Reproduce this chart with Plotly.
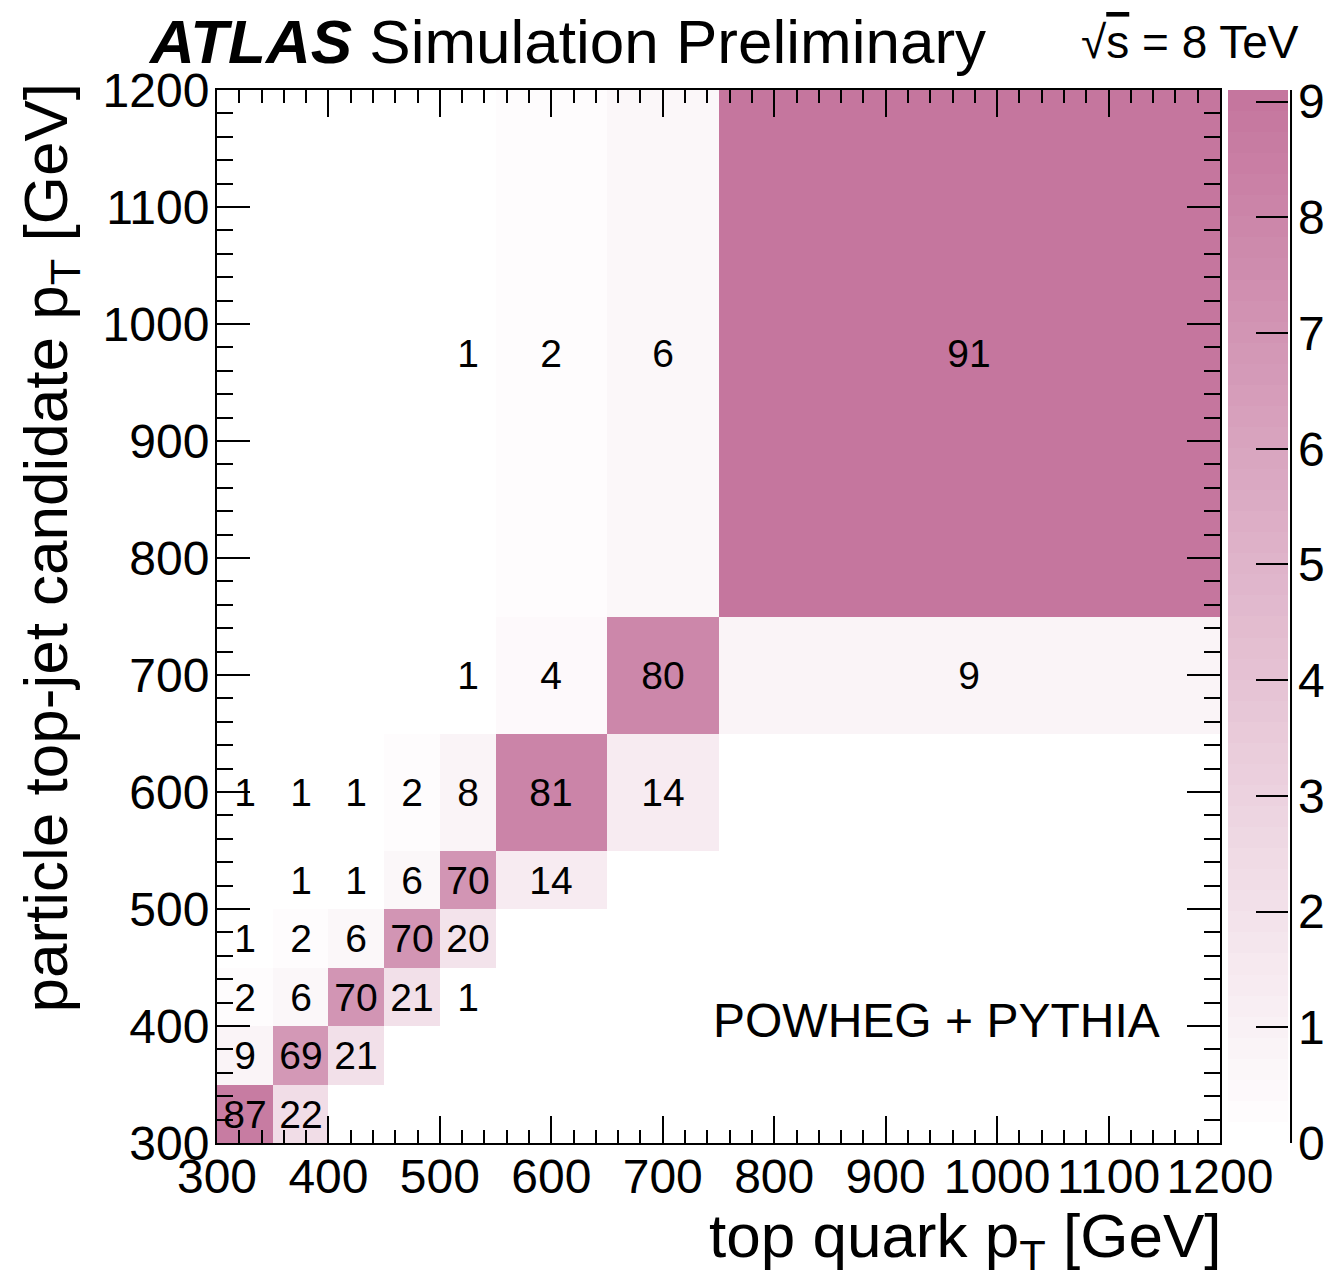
import plotly.graph_objects as go

# Bin edges (GeV) for top quark pT (x) and particle top-jet candidate pT (y)
x_edges = [300, 350, 400, 450, 500, 550, 650, 750, 1200]
y_edges = [300, 350, 400, 450, 500, 550, 650, 750, 1200]

# Migration matrix in percent, one row per y bin (bottom to top), None = empty bin
row_300_350 = [87, 22, None, None, None, None, None, None]
row_350_400 = [9, 69, 21, None, None, None, None, None]
row_400_450 = [2, 6, 70, 21, 1, None, None, None]
row_450_500 = [1, 2, 6, 70, 20, None, None, None]
row_500_550 = [None, 1, 1, 6, 70, 14, None, None]
row_550_650 = [1, 1, 1, 2, 8, 81, 14, None]
row_650_750 = [None, None, None, None, 1, 4, 80, 9]
row_750_1200 = [None, None, None, None, 1, 2, 6, 91]

z = [row_300_350, row_350_400, row_400_450, row_450_500,
     row_500_550, row_550_650, row_650_750, row_750_1200]
labels = [["" if v is None else str(v) for v in row] for row in z]

colorbar_ticks = [0, 10, 20, 30, 40, 50, 60, 70, 80, 90]

# Stepped white -> pink palette
n_steps = 50
c0 = (255, 255, 255)
c1 = (197, 118, 158)
scale = []
for i in range(n_steps):
    f = i / (n_steps - 1)
    col = "rgb(%d,%d,%d)" % tuple(round(a + (b - a) * f) for a, b in zip(c0, c1))
    scale.append([i / n_steps, col])
    scale.append([(i + 1) / n_steps, col])

FONT = "Liberation Sans, Arial, Helvetica, sans-serif"

fig = go.Figure()
fig.add_trace(go.Heatmap(
    x=x_edges, y=y_edges, z=z,
    text=labels, texttemplate="%{text}",
    textfont=dict(family=FONT, size=39, color="black"),
    colorscale=scale, zmin=0, zmax=91,
    hoverongaps=False,
    colorbar=dict(
        x=1.008, xanchor="left", xpad=0, ypad=0,
        y=0, yanchor="bottom",
        lenmode="pixels", len=1053,
        thicknessmode="pixels", thickness=60,
        outlinewidth=0,
        tickvals=colorbar_ticks,
        ticks="inside", ticklen=32, tickwidth=2, tickcolor="black",
        tickfont=dict(family=FONT, size=48, color="black"),
    ),
))

axis_common = dict(
    showgrid=False, zeroline=False,
    showline=True, linecolor="black", linewidth=2, mirror="ticks",
    ticks="inside", tickwidth=2, tickcolor="black",
    tickfont=dict(family=FONT, size=48, color="black"),
    dtick=100, tick0=0,
)

fig.update_xaxes(range=[300, 1200], ticklen=27, ticklabelstandoff=-10,
                 minor=dict(dtick=20, ticks="inside", ticklen=13, tickwidth=2, tickcolor="black"),
                 **axis_common)
fig.update_yaxes(range=[300, 1200], ticklen=33, ticklabelstandoff=-4,
                 minor=dict(dtick=20, ticks="inside", ticklen=16, tickwidth=2, tickcolor="black"),
                 **axis_common)

annotations = [
    dict(text="<b><i>ATLAS</i></b> Simulation Preliminary",
         x=-0.0708, y=1.0456, xanchor="left", yanchor="middle",
         font=dict(family=FONT, size=62, color="black")),
    dict(text="√<span style='text-decoration:overline'>s</span> = 8 TeV",
         x=1.0808, y=1.0456, xanchor="right", yanchor="middle",
         font=dict(family=FONT, size=46, color="black")),
    dict(text="POWHEG + PYTHIA",
         xref="x", yref="y", x=1148, y=405, xanchor="right", yanchor="middle",
         font=dict(family=FONT, size=48, color="black")),
    dict(text="top quark p<sub>T</sub> [GeV]",
         x=1.003, y=-0.092, xanchor="right", yanchor="middle",
         font=dict(family=FONT, size=62, color="black")),
    dict(text="particle top-jet candidate p<sub>T</sub> [GeV]",
         x=-0.1665, y=1.009, xanchor="center", yanchor="top", textangle=-90,
         font=dict(family=FONT, size=62, color="black")),
]
for a in annotations:
    a.setdefault("xref", "paper")
    a.setdefault("yref", "paper")
    a["showarrow"] = False
    fig.add_annotation(**a)

# Right edge of the colour bar
fig.add_shape(type="line", xref="paper", yref="paper",
              x0=1.0708, x1=1.0708, y0=0, y1=1,
              line=dict(color="black", width=2))

fig.update_layout(
    width=1324, height=1274,
    margin=dict(l=217, r=104, t=90, b=131, pad=0, autoexpand=False),
    paper_bgcolor="white", plot_bgcolor="white",
    showlegend=False,
)

fig.write_html("out.html")
